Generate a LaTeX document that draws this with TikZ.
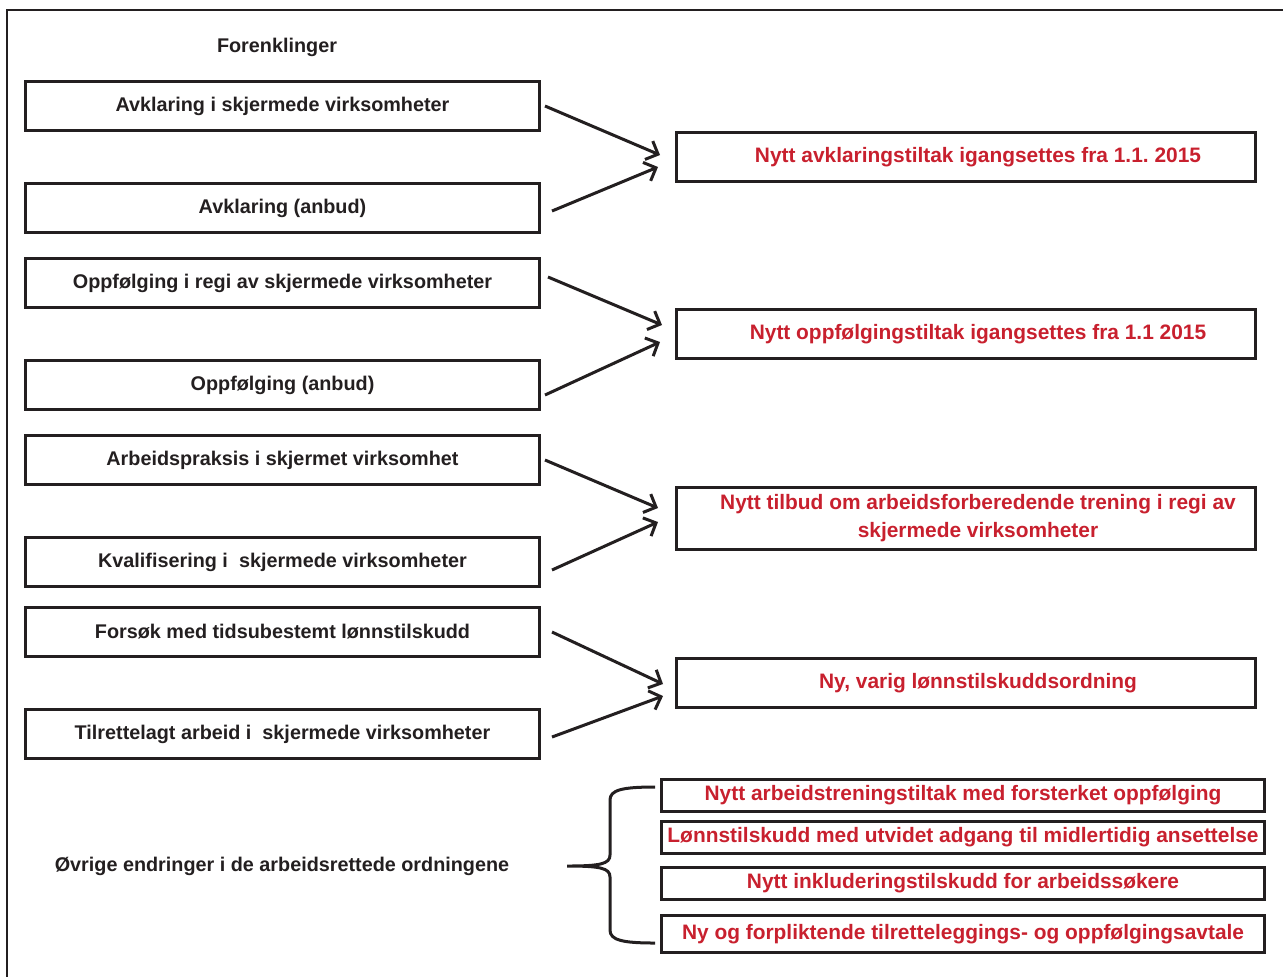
\documentclass[tikz,border=0pt]{standalone}
\usepackage{fontspec}
\setmainfont{Liberation Sans}
\usepackage{xcolor}
\usetikzlibrary{arrows.meta,positioning,calc}
\definecolor{nyrod}{RGB}{200,32,46}
\definecolor{mork}{RGB}{35,31,32}

\begin{document}
\frenchspacing
\begin{tikzpicture}[
    x=0.5pt,y=-0.5pt,
    gammel/.style={rectangle,draw=mork,line width=1.5pt,minimum width=257pt,minimum height=24.5pt,inner sep=0pt,font=\fontsize{9.9}{14}\selectfont\bfseries,text=mork,align=center},
    ny/.style={gammel,minimum width=289.5pt,text=nyrod,font=\fontsize{10.45}{14}\selectfont\bfseries,execute at begin node=\hspace*{12pt}},
    endring/.style={gammel,minimum width=301.5pt,minimum height=16pt,text=nyrod,font=\fontsize{10.45}{14}\selectfont\bfseries},
    pil/.style={-{Straight Barb[length=5pt,width=10pt]},line width=1.5pt,mork},
    klamme/.style={line width=1.5pt,mork},
    tittel/.style={font=\fontsize{9.9}{14}\selectfont\bfseries,text=mork},
]
\useasboundingbox (0,0) rectangle (1283,976);
\draw[line width=1pt,mork] (7,1000) -- (7,10) -- (1300,10);

% gamle ordninger
\node[tittel] (forenkl) at (277,47) {Forenklinger};
\node[gammel] (l1) at (282.5,106) {Avklaring i skjermede virksomheter};
\node[gammel,below=25pt of l1] (l2) {Avklaring (anbud)};
\node[gammel,below=11.5pt of l2] (l3) {Oppfølging i regi av skjermede virksomheter};
\node[gammel,below=25pt of l3] (l4) {Oppfølging (anbud)};
\node[gammel,below=11.5pt of l4] (l5) {Arbeidspraksis i skjermet virksomhet};
\node[gammel,below=25pt of l5] (l6) {Kvalifisering i\ \ skjermede virksomheter};
\node[gammel,below=9pt of l6] (l7) {Forsøk med tidsubestemt lønnstilskudd};
\node[gammel,below=25pt of l7] (l8) {Tilrettelagt arbeid i\ \ skjermede virksomheter};

% nye ordninger
\node[ny] (r1) at ($(l1)!0.5!(l2)+(683.5,0)$) {Nytt avklaringstiltak igangsettes fra 1.1. 2015};
\node[ny] (r2) at ($(l3)!0.5!(l4)+(683.5,0)$) {Nytt oppfølgingstiltak igangsettes fra 1.1 2015};
\node[ny,minimum height=31pt] (r3) at ($(l5)!0.5!(l6)+(683.5,7)$) {Nytt tilbud om arbeidsforberedende trening i regi av\\skjermede virksomheter};
\node[ny] (r4) at ($(l7)!0.5!(l8)+(683.5,0)$) {Ny, varig lønnstilskuddsordning};

\draw[pil] ([xshift=2pt]l1.east) -- ([xshift=-7.5pt,yshift=1pt]r1.west);
\draw[pil] ([xshift=5.5pt,yshift=-1.5pt]l2.east) -- ([xshift=-8.5pt,yshift=-5pt]r1.west);
\draw[pil] ([xshift=3.5pt,yshift=3pt]l3.east) -- ([xshift=-6.5pt,yshift=4.5pt]r2.west);
\draw[pil] ([xshift=2pt,yshift=-5pt]l4.east) -- ([xshift=-7.5pt,yshift=-4pt]r2.west);
\draw[pil] ([xshift=2pt]l5.east) -- ([xshift=-8.5pt,yshift=5pt]r3.west);
\draw[pil] ([xshift=5.5pt,yshift=-4pt]l6.east) -- ([xshift=-8.5pt,yshift=-2pt]r3.west);
\draw[pil] ([xshift=5.5pt]l7.east) -- ([xshift=-6pt,yshift=-0.5pt]r4.west);
\draw[pil] ([xshift=5.5pt,yshift=-1.5pt]l8.east) -- ([xshift=-6pt,yshift=-6.5pt]r4.west);

% øvrige endringer
\node[tittel] (ovrige) at (282,866) {Øvrige endringer i de arbeidsrettede ordningene};
\node[endring] (e1) at (963,795.5) {Nytt arbeidstreningstiltak med forsterket oppfølging};
\node[endring,below=3.5pt of e1] (e2) {Lønnstilskudd med utvidet adgang til midlertidig ansettelse};
\node[endring,below=5.5pt of e2] (e3) {Nytt inkluderingstilskudd for arbeidssøkere};
\node[endring,below=6.5pt of e3,minimum height=18.5pt] (e4) {Ny og forpliktende tilretteleggings- og oppfølgingsavtale};

\coordinate (kt) at (655,787);
\coordinate (kb) at (655,943);
\coordinate (kspiss) at (567,866);
\draw[klamme] (kt) .. controls (622,787) and (610,790) .. (610,800) -- (610,855)
  .. controls (610,864) and (600,866) .. (kspiss)
  .. controls (600,866) and (610,868) .. (610,877) -- (610,930)
  .. controls (610,940) and (622,943) .. (kb);
\end{tikzpicture}
\end{document}
